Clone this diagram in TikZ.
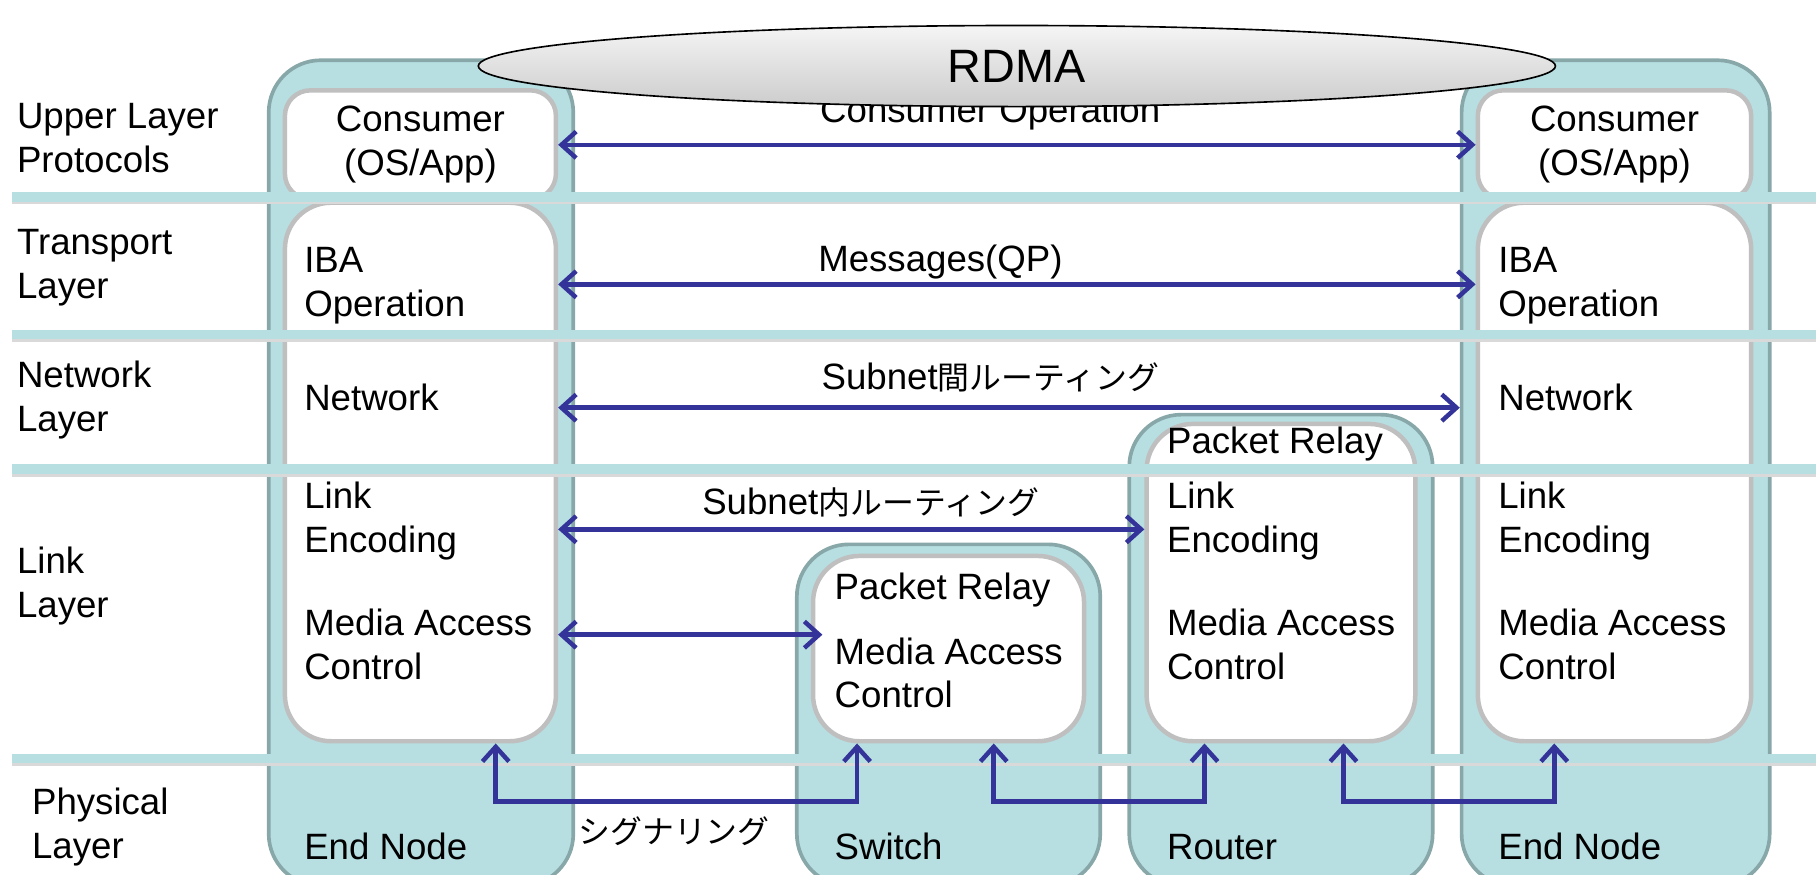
\documentclass[tikz,border=0pt]{standalone}
\usepackage{fontspec}
\setmainfont{Liberation Sans}
\newfontfamily\jp{Noto Sans CJK JP}[Scale=0.87]
\usetikzlibrary{shapes.geometric,arrows.meta}

\definecolor{nodefill}{HTML}{B7DEE1}
\definecolor{nodeedge}{HTML}{87A7A9}
\definecolor{partedge}{HTML}{BFBFBF}
\definecolor{arrowblue}{HTML}{333399}

\begin{document}
\begin{tikzpicture}[
  font=\fontsize{9}{10.8}\selectfont,
  unitbox/.style={draw=nodeedge, fill=nodefill, line width=0.9pt, rounded corners=0.45cm, inner sep=0},
  partbox/.style={draw=partedge, fill=white, line width=1.1pt, rounded corners=0.4cm, inner sep=0},
  txt/.style={anchor=west, align=left, inner sep=0},
  band/.style={draw=nodefill, line width=0.08cm},
  bandshadow/.style={draw=black!15, line width=0.04cm},
  link/.style={draw=arrowblue, line width=1.1pt, {Straight Barb[length=3.6pt,width=6.5pt]}-{Straight Barb[length=3.6pt,width=6.5pt]}},
  rdma/.style={ellipse, draw, thin, top color=gray!8, bottom color=gray!40, inner sep=0, font=\fontsize{11.5}{13}\selectfont}
]
\useasboundingbox (0,0) rectangle (15.68,-7.55);
\clip (0,0) rectangle (15.68,-7.55);

% nodes of the fabric
\node[unitbox, minimum width=2.63cm, minimum height=7.13cm] (lend) at (3.635,-4.085) {};
\node[unitbox, minimum width=2.62cm, minimum height=2.95cm] (sw) at (8.19,-6.175) {};
\node[unitbox, minimum width=2.62cm, minimum height=4.07cm] (rt) at (11.06,-5.615) {};
\node[unitbox, minimum width=2.66cm, minimum height=7.13cm] (rend) at (13.95,-4.085) {};

\node[partbox, rounded corners=0.22cm, minimum width=2.34cm, minimum height=0.94cm] (lcons) at (3.63,-1.25) {};
\node[partbox, minimum width=2.34cm, minimum height=4.65cm] (lcore) at (3.63,-4.075) {};
\node[partbox, minimum width=2.34cm, minimum height=1.60cm] (swin) at (8.19,-5.60) {};
\node[partbox, minimum width=2.32cm, minimum height=2.74cm] (rtin) at (11.06,-5.03) {};
\node[partbox, rounded corners=0.22cm, minimum width=2.36cm, minimum height=0.94cm] (rcons) at (13.94,-1.25) {};
\node[partbox, minimum width=2.36cm, minimum height=4.65cm] (rcore) at (13.94,-4.075) {};

% layer names
\node[txt] (ulp) at (0.14,-1.19) {Upper Layer\\Protocols};
\node[txt] (tpl) at (0.14,-2.31) {Transport\\Layer};
\node[txt] (nwl) at (0.14,-3.45) {Network\\Layer};
\node[txt] (lkl) at (0.14,-5.06) {Link\\Layer};
\node[txt] (phl) at (0.27,-7.14) {Physical\\Layer};

% end node (left)
\node[align=center, inner sep=0] (lconst) at (3.63,-1.25) {Consumer\\(OS/App)};
\node[txt] (liba) at (2.62,-2.465) {IBA\\Operation};
\node[txt] (lnet) at (2.62,-3.43) {Network};
\node[txt] (lenc) at (2.62,-4.50) {Link\\Encoding};
\node[txt] (lmac) at (2.62,-5.56) {Media Access\\Control};
\node[txt] (lname) at (2.62,-7.31) {End Node};

% switch
\node[txt] (swrel) at (7.20,-5.09) {Packet Relay};
\node[txt] (swmac) at (7.20,-5.81) {Media Access\\Control};
\node[txt] (swname) at (7.20,-7.31) {Switch};

% router
\node[txt] (rtrel) at (10.07,-3.83) {Packet Relay};
\node[txt] (rtenc) at (10.07,-4.50) {Link\\Encoding};
\node[txt] (rtmac) at (10.07,-5.56) {Media Access\\Control};
\node[txt] (rtname) at (10.07,-7.31) {Router};

% end node (right)
\node[align=center, inner sep=0] (rconst) at (13.94,-1.25) {Consumer\\(OS/App)};
\node[txt] (riba) at (12.93,-2.465) {IBA\\Operation};
\node[txt] (rnet) at (12.93,-3.43) {Network};
\node[txt] (renc) at (12.93,-4.50) {Link\\Encoding};
\node[txt] (rmac) at (12.93,-5.56) {Media Access\\Control};
\node[txt] (rname) at (12.93,-7.31) {End Node};

% layer borders
\foreach \y in {1.70,2.89,4.05,6.55} {
  \draw[bandshadow] (0.10,{-\y-0.045}) -- (15.68,{-\y-0.045});
  \draw[band] (0.10,-\y) -- (15.68,-\y);
}

% peer links
\draw[link] (lcons.east) -- (rcons.west);
\draw[link] ([yshift=0.1mm]lcore.east |- liba) -- ([yshift=0.1mm]rcore.west |- riba);
\draw[link] ([yshift=-0.9mm]lcore.east |- lnet) -- ([yshift=-0.9mm]rend.west |- rnet);
\draw[link] ([yshift=-0.7mm]lcore.east |- lenc) -- ([yshift=-0.7mm]rtin.west |- rtenc);
\draw[link] ([yshift=0.8mm]lcore.east |- lmac) -- ([xshift=1mm,yshift=0.8mm]swin.west |- lmac);

\node[inner sep=0] (msgl) at (8.12,-2.26) {Messages(QP)};
\node[inner sep=0] (gwl) at (8.55,-3.26) {Subnet{\jp 間ルーティング}};
\node[inner sep=0] (swl) at (7.52,-4.34) {Subnet{\jp 内ルーティング}};

% signalling
\draw[link] ([xshift=6.5mm]lcore.south) -- ++(0,-0.50) -| ([xshift=-7.9mm]swin.south);
\draw[link] ([xshift=3.9mm]swin.south) -- ++(0,-0.50) -| ([xshift=-6.6mm]rtin.south);
\draw[link] ([xshift=5.4mm]rtin.south) -- ++(0,-0.50) -| ([xshift=-5.2mm]rcore.south);
\node[inner sep=0] (sigl) at (5.82,-7.18) {\jp シグナリング};

\node[inner sep=0] (opl) at (8.55,-0.98) {Consumer Operation};
\node[rdma, minimum width=9.30cm, minimum height=0.70cm] (rdmal) at (8.78,-0.57) {RDMA};
\end{tikzpicture}
\end{document}
